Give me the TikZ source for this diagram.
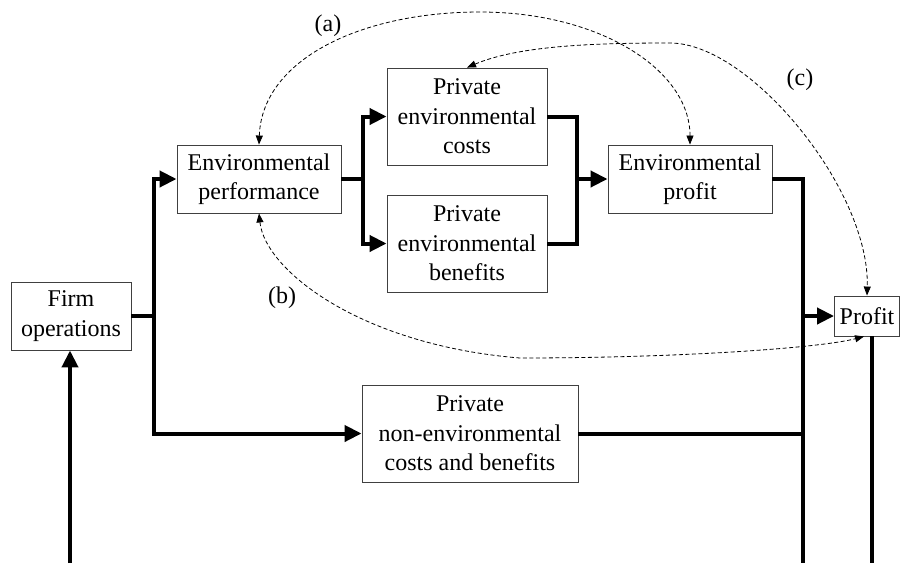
\documentclass[tikz,border=0pt]{standalone}
\usepackage{fontspec}
\setmainfont{Liberation Serif}
\usetikzlibrary{arrows.meta}
\begin{document}
\begin{tikzpicture}[x=1pt,y=-1pt,
  box/.style={draw=black!75,line width=0.9pt,fill=white,inner sep=0pt,align=center,
    font=\fontsize{24}{29.5}\selectfont},
  flow/.style={line width=4pt,line join=miter},
  flowarr/.style={flow,-{Triangle[length=17pt,width=16pt]}},
  link/.style={line width=0.8pt,dash pattern=on 4pt off 2.5pt,
    {Triangle[length=9pt,width=7pt]}-{Triangle[length=9pt,width=7pt]}},
  lbl/.style={font=\fontsize{24}{29}\selectfont,inner sep=0pt}]
\useasboundingbox (0,0) rectangle (901,563);

% nodes
\node[box,minimum width=120pt,minimum height=68pt] (firm) at (71,316) {Firm\\operations};
\node[box,minimum width=164pt,minimum height=68pt] (eperf) at (259,179) {Environmental\\performance};
\node[box,minimum width=160pt,minimum height=97pt] (pec) at (467,116.5) {Private\\environmental\\costs};
\node[box,minimum width=160pt,minimum height=97pt] (peb) at (467,243.5) {Private\\environmental\\benefits};
\node[box,minimum width=164pt,minimum height=68pt] (eprof) at (690,179) {Environmental\\profit};
\node[box,minimum width=65pt,minimum height=40pt] (profit) at (867,316) {Profit};
\node[box,minimum width=216pt,minimum height=97pt] (pne) at (470,433.5) {Private\\non-environmental\\costs and benefits};

% junctions
\coordinate (j1) at (154,316);
\coordinate (j2) at (363,179);
\coordinate (j3) at (577,179);
\coordinate (j4) at (803,316);
\coordinate (bl) at (70,563);
\coordinate (br) at (803,563);
\coordinate (bp) at (872,563);

% flows
\draw[flowarr] (bl) -- (firm.south -| bl);
\draw[flow] (firm.east) -- (j1);
\draw[flowarr] (j1) |- (eperf.west);
\draw[flowarr] (j1) |- (pne.west);
\draw[flow] (eperf.east) -- (j2);
\draw[flowarr] (j2) |- (pec.west);
\draw[flowarr] (j2) |- (peb.west);
\draw[flow] (pec.east) -| (j3);
\draw[flow] (peb.east) -| (j3);
\draw[flowarr] (j3) -- (eprof.west);
\draw[flow] (eprof.east) -| (br);
\draw[flow] (pne.east) -- (pne.east -| br);
\draw[flowarr] (j4) -- (profit.west);
\draw[flow] (profit.south -| bp) -- (bp);

% dashed links
\draw[link] (eperf.north) .. controls (262,60) and (360,12) .. (480,12)
  .. controls (600,12) and (690,70) .. (eprof.north);
\draw[link] (pec.north) .. controls (520,45) and (600,43) .. (670,43)
  .. controls (750,43) and (870,190) .. (profit.north);
\draw[link] (eperf.south) .. controls (265,270) and (360,345) .. (520,358)
  .. controls (680,358) and (820,348) .. ([xshift=-3pt]profit.south);

% labels
\node[lbl] (la) at (328,26) {(a)};
\node[lbl] (lb) at (282,298) {(b)};
\node[lbl] (lc) at (800,80) {(c)};
\end{tikzpicture}
\end{document}
